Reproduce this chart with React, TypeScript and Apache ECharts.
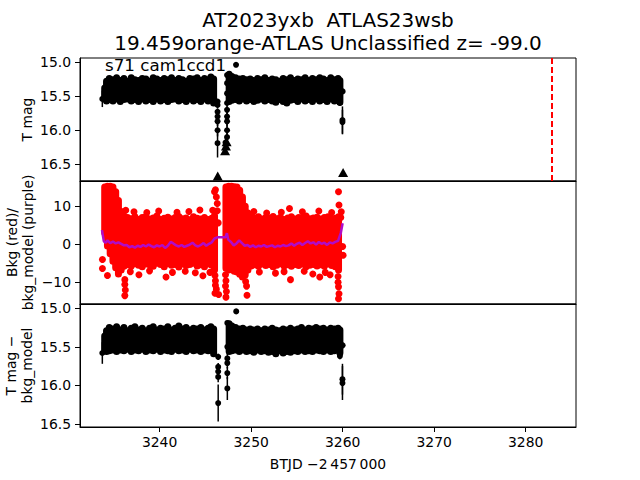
import React, { useEffect, useRef } from "react";
import * as echarts from "echarts";

const TITLE_LINE1 = "AT2023yxb  ATLAS23wsb";
const TITLE_LINE2 = "19.459orange-ATLAS Unclassified z= -99.0";
const SECTOR_LABEL = "s71 cam1ccd1";
const X_LABEL = "BTJD \u22122\u2009457\u2009000";
const Y1_LABEL = "T mag";
const Y2_LABEL = "Bkg (red)/\nbkg_model (purple)";
const Y3_LABEL = "T mag \u2212\nbkg_model";

const X_TICKS = [3240, 3250, 3260, 3270, 3280];
const MAG_TICKS = [15.0, 15.5, 16.0, 16.5];
const BKG_TICKS = [-10, 0, 10];
const X_RANGE = [3231.3, 3285.5];
const MAG_RANGE = [14.94, 16.745];
const BKG_RANGE = [-15.7, 16.6];
const DET_RANGE = [14.944, 16.54];
const MARKER_T = 3282.9;

// Panel 1: dense light-curve envelope [t, brightest mag, faintest mag]
const magBand = [
  [3234.0, 15.38, 15.54], [3234.2, 15.28, 15.57], [3234.5, 15.24, 15.55], [3234.9, 15.26, 15.57],
  [3235.3, 15.23, 15.54], [3235.7, 15.27, 15.58], [3236.1, 15.24, 15.55], [3236.5, 15.28, 15.54],
  [3236.9, 15.23, 15.57], [3237.3, 15.26, 15.55], [3237.7, 15.27, 15.58], [3238.1, 15.24, 15.54],
  [3238.5, 15.25, 15.57], [3238.9, 15.28, 15.55], [3239.3, 15.23, 15.58], [3239.7, 15.25, 15.54],
  [3240.1, 15.27, 15.57], [3240.5, 15.24, 15.55], [3240.9, 15.26, 15.58], [3241.3, 15.23, 15.55],
  [3241.7, 15.27, 15.54], [3242.1, 15.24, 15.57], [3242.5, 15.26, 15.55], [3242.9, 15.28, 15.58],
  [3243.3, 15.24, 15.54], [3243.7, 15.25, 15.57], [3244.1, 15.23, 15.55], [3244.5, 15.27, 15.58],
  [3244.9, 15.24, 15.54], [3245.3, 15.26, 15.57], [3245.6, 15.22, 15.55], [3245.9, 15.25, 15.60],
  [3247.6, 15.18, 15.58], [3247.9, 15.21, 15.56], [3248.3, 15.23, 15.55], [3248.7, 15.25, 15.57],
  [3249.1, 15.24, 15.54], [3249.5, 15.26, 15.57], [3249.9, 15.25, 15.55], [3250.3, 15.27, 15.58],
  [3250.7, 15.24, 15.56], [3251.1, 15.26, 15.54], [3251.5, 15.23, 15.57], [3251.9, 15.27, 15.55],
  [3252.3, 15.25, 15.57], [3252.7, 15.26, 15.59], [3253.1, 15.28, 15.55], [3253.5, 15.24, 15.58],
  [3253.9, 15.26, 15.60], [3254.3, 15.23, 15.56], [3254.7, 15.27, 15.55], [3255.1, 15.25, 15.58],
  [3255.5, 15.26, 15.54], [3255.9, 15.23, 15.57], [3256.3, 15.27, 15.55], [3256.7, 15.24, 15.58],
  [3257.1, 15.26, 15.54], [3257.5, 15.23, 15.57], [3257.9, 15.25, 15.55], [3258.3, 15.27, 15.58],
  [3258.7, 15.23, 15.54], [3259.1, 15.26, 15.57], [3259.5, 15.24, 15.55], [3259.7, 15.27, 15.59],
];
// Panel 1: isolated points [t, mag, error]
const magPoints = [
  [3233.74, 15.54, 0.12],
  [3246.33, 15.58, 0.04], [3246.33, 15.63, 0.05], [3246.33, 15.73, 0.05], [3246.33, 15.80, 0.06],
  [3246.33, 15.87, 0.07], [3246.33, 16.00, 0.09], [3246.33, 16.19, 0.21],
  [3247.37, 15.19, 0.0], [3247.37, 15.31, 0.04], [3247.37, 15.46, 0.04], [3247.37, 15.60, 0.05],
  [3247.37, 15.70, 0.06], [3247.37, 15.80, 0.07], [3247.37, 15.87, 0.08], [3247.37, 16.00, 0.10],
  [3247.37, 16.10, 0.14], [3247.2, 16.18, 0.08],
  [3248.35, 15.04, 0.0],
  [3259.7, 15.60, 0.04], [3260.0, 15.43, 0.04],
  [3259.98, 15.85, 0.2], [3259.98, 15.88, 0.18],
];
// Panel 1: upper limits [t, mag]
const magLimits = [
  [3246.35, 16.67], [3247.15, 16.30], [3247.25, 16.23], [3247.32, 16.17], [3260.05, 16.62],
];

// Panel 2: background envelope [t, high, low]
const bkgBand = [
  [3234.0, 15.0, 3.0], [3234.3, 15.2, -0.5], [3234.6, 15.2, -2.5], [3234.9, 15.0, -4.5],
  [3235.2, 13.8, -6.2], [3235.5, 11.5, -7.8], [3235.8, 8.6, -6.8], [3236.1, 7.4, -5.8],
  [3236.5, 7.0, -5.4], [3236.9, 6.7, -5.7], [3237.3, 7.2, -5.1], [3237.7, 6.5, -5.5],
  [3238.1, 7.0, -5.9], [3238.5, 7.3, -5.2], [3238.9, 6.6, -5.4], [3239.3, 6.9, -5.8],
  [3239.7, 7.4, -5.0], [3240.1, 6.5, -5.3], [3240.5, 6.8, -5.9], [3240.9, 7.1, -5.1],
  [3241.3, 6.6, -5.5], [3241.7, 7.0, -5.3], [3242.1, 7.3, -6.0], [3242.5, 6.7, -5.2],
  [3242.9, 6.9, -5.6], [3243.3, 6.4, -5.3], [3243.7, 7.2, -5.0], [3244.1, 6.8, -5.7],
  [3244.5, 6.6, -5.4], [3244.9, 7.0, -5.9], [3245.3, 6.5, -5.2], [3245.7, 6.8, -5.5],
  [3246.0, 7.5, -6.8],
  [3247.25, 15.0, -6.3], [3247.55, 15.2, -6.8], [3247.85, 15.2, -6.5], [3248.15, 15.1, -7.1],
  [3248.45, 15.0, -7.3], [3248.75, 14.2, -7.9], [3249.05, 12.4, -8.6], [3249.35, 10.0, -8.1],
  [3249.65, 8.2, -6.8], [3250.0, 7.3, -5.7], [3250.4, 6.9, -5.4], [3250.8, 7.2, -5.8],
  [3251.2, 6.6, -5.2], [3251.6, 7.0, -5.6], [3252.0, 6.8, -5.3], [3252.4, 7.3, -5.9],
  [3252.8, 6.7, -5.5], [3253.2, 7.1, -5.1], [3253.6, 6.5, -5.7], [3254.0, 6.9, -5.4],
  [3254.4, 7.2, -5.8], [3254.8, 6.6, -5.3], [3255.2, 7.0, -5.6], [3255.6, 6.8, -5.2],
  [3256.0, 7.4, -5.9], [3256.4, 6.7, -5.5], [3256.8, 6.9, -5.3], [3257.2, 7.1, -5.7],
  [3257.6, 6.6, -5.4], [3258.0, 7.0, -5.8], [3258.4, 7.2, -5.2], [3258.8, 6.7, -5.6],
  [3259.2, 6.8, -5.9], [3259.55, 7.2, -6.8],
];
// Panel 2: scattered background points [t, value]
const bkgPoints = [
  [3233.75, -4.0], [3233.75, -6.4], [3234.3, -8.2],
  [3236.2, -9.3], [3236.2, -10.6], [3236.25, -12.0], [3236.2, -13.5], [3236.3, 8.9],
  [3236.8, -7.2], [3237.2, 8.5], [3237.74, -8.0], [3238.6, 8.3], [3238.9, -7.0],
  [3239.9, 8.7], [3240.7, -8.6], [3241.4, -7.4], [3241.9, 8.4], [3242.8, -7.1],
  [3243.2, 8.6], [3243.9, -7.5], [3244.4, 9.0], [3244.73, -8.3], [3245.5, -7.4], [3245.8, 8.9],
  [3246.0, 13.8], [3246.1, 14.3], [3246.2, 12.4], [3246.3, 10.7], [3246.3, 8.8], [3246.4, 5.6],
  [3246.05, -8.2], [3246.1, -9.6], [3246.1, -10.8], [3246.2, -11.8], [3246.05, -12.9], [3246.45, -13.2],
  [3247.2, -8.0], [3247.25, -9.6], [3247.2, -11.0], [3247.3, -12.4], [3247.25, -13.9],
  [3249.4, -9.8], [3249.5, -11.0], [3249.55, -13.4],
  [3250.3, 8.6], [3250.9, -7.3], [3251.7, 8.2], [3252.66, -7.6], [3253.6, -7.2], [3253.3, 8.4],
  [3254.19, 9.4], [3254.3, -9.3], [3255.8, -7.1], [3255.6, 8.5],
  [3256.74, -7.8], [3257.4, 8.7], [3257.5, -8.6], [3258.1, -7.4], [3258.63, -8.0], [3258.8, 8.3],
  [3259.55, 13.8], [3259.6, 10.3], [3259.85, 8.5], [3259.8, 7.0],
  [3259.5, -8.5], [3259.5, -10.0], [3259.55, -11.2], [3259.6, -13.0], [3259.55, -14.3],
  [3260.0, -0.6], [3260.05, -2.9],
];
// Panel 2: background model [t, value]
const bkgModel = [
  [3233.7, 3.7], [3233.9, 0.8], [3234.1, 0.4], [3234.3, 1.0], [3234.6, 0.3], [3234.9, 0.7],
  [3235.2, 0.2], [3235.5, 0.5], [3235.8, 0.1], [3236.1, -0.3], [3236.4, -0.2], [3236.7, -0.8],
  [3237.0, -0.5], [3237.3, -0.9], [3237.6, -0.4], [3237.9, -0.7], [3238.2, -0.2], [3238.5, -0.6],
  [3238.8, -0.1], [3239.1, -0.5], [3239.4, -0.8], [3239.7, -0.3], [3240.0, -0.6], [3240.3, -0.2],
  [3240.6, -1.0], [3240.9, -0.4], [3241.2, 0.6], [3241.5, 0.2], [3241.8, -0.3], [3242.1, -0.6],
  [3242.4, -0.2], [3242.7, -0.7], [3243.0, -0.4], [3243.3, -0.1], [3243.6, 0.4], [3243.9, -0.3],
  [3244.2, -0.6], [3244.5, -0.2], [3244.8, 0.3], [3245.1, -0.4], [3245.4, 0.1], [3245.7, 0.5],
  [3246.0, 1.5], [3246.3, 1.8], [3247.2, 1.8], [3247.35, 2.9], [3247.5, 1.2], [3247.8, 0.6],
  [3248.1, -0.3], [3248.4, 0.2], [3248.7, 1.0], [3249.0, 0.3], [3249.3, -0.4], [3249.6, -0.2],
  [3249.9, -0.7], [3250.2, -0.3], [3250.5, -0.8], [3250.8, -0.4], [3251.1, -0.6], [3251.4, -0.2],
  [3251.7, -0.7], [3252.0, -0.5], [3252.3, -0.3], [3252.6, -0.8], [3252.9, -0.4], [3253.2, -0.6],
  [3253.5, -0.2], [3253.8, -0.5], [3254.1, -0.3], [3254.4, 0.2], [3254.7, -0.4], [3255.0, 0.1],
  [3255.3, 0.4], [3255.6, -0.2], [3255.9, 0.3], [3256.2, 0.8], [3256.5, 0.2], [3256.8, 0.5],
  [3257.1, -0.1], [3257.4, 0.6], [3257.7, 0.1], [3258.0, 0.4], [3258.3, -0.2], [3258.6, 0.5],
  [3258.9, 0.2], [3259.2, 0.6], [3259.5, 0.9], [3259.8, 3.0], [3260.0, 5.5],
];

// Panel 3: detrended envelope [t, brightest mag, faintest mag]
const detBand = [
  [3234.0, 15.36, 15.54], [3234.2, 15.29, 15.56], [3234.5, 15.25, 15.55], [3234.9, 15.27, 15.54],
  [3235.3, 15.24, 15.56], [3235.7, 15.28, 15.54], [3236.1, 15.25, 15.55], [3236.5, 15.29, 15.53],
  [3236.9, 15.26, 15.56], [3237.3, 15.24, 15.54], [3237.7, 15.28, 15.55], [3238.1, 15.26, 15.53],
  [3238.5, 15.29, 15.56], [3238.9, 15.26, 15.54], [3239.3, 15.24, 15.55], [3239.7, 15.28, 15.53],
  [3240.1, 15.26, 15.56], [3240.5, 15.27, 15.54], [3240.9, 15.24, 15.55], [3241.3, 15.28, 15.56],
  [3241.7, 15.26, 15.53], [3242.1, 15.23, 15.55], [3242.5, 15.27, 15.54], [3242.9, 15.25, 15.56],
  [3243.3, 15.28, 15.53], [3243.7, 15.26, 15.55], [3244.1, 15.27, 15.54], [3244.5, 15.25, 15.56],
  [3244.9, 15.28, 15.54], [3245.3, 15.26, 15.55], [3245.6, 15.24, 15.54], [3245.9, 15.27, 15.59],
  [3247.6, 15.20, 15.56], [3247.9, 15.23, 15.55], [3248.3, 15.25, 15.54], [3248.7, 15.27, 15.56],
  [3249.1, 15.26, 15.54], [3249.5, 15.28, 15.56], [3249.9, 15.27, 15.55], [3250.3, 15.28, 15.57],
  [3250.7, 15.27, 15.54], [3251.1, 15.29, 15.56], [3251.5, 15.27, 15.55], [3251.9, 15.28, 15.57],
  [3252.3, 15.26, 15.56], [3252.7, 15.28, 15.59], [3253.1, 15.29, 15.55], [3253.5, 15.27, 15.58],
  [3253.9, 15.28, 15.56], [3254.3, 15.26, 15.57], [3254.7, 15.28, 15.55], [3255.1, 15.27, 15.56],
  [3255.5, 15.25, 15.54], [3255.9, 15.28, 15.56], [3256.3, 15.26, 15.55], [3256.7, 15.27, 15.56],
  [3257.1, 15.25, 15.54], [3257.5, 15.27, 15.55], [3257.9, 15.26, 15.56], [3258.3, 15.28, 15.54],
  [3258.7, 15.26, 15.56], [3259.1, 15.27, 15.55], [3259.5, 15.26, 15.54], [3259.7, 15.28, 15.58],
];
// Panel 3: isolated points [t, mag, error]
const detPoints = [
  [3233.74, 15.58, 0.14],
  [3246.4, 15.63, 0.04], [3246.4, 15.76, 0.05], [3246.4, 15.82, 0.06], [3246.4, 15.89, 0.07],
  [3246.4, 16.23, 0.24],
  [3247.4, 15.19, 0.0], [3247.4, 15.50, 0.05], [3247.4, 15.65, 0.06], [3247.4, 15.71, 0.07],
  [3247.4, 15.84, 0.08], [3247.4, 16.04, 0.15],
  [3248.37, 15.04, 0.0],
  [3259.7, 15.62, 0.04], [3260.0, 15.48, 0.04],
  [3259.98, 15.92, 0.2], [3259.98, 15.97, 0.22],
];

const FONT = "DejaVu Sans";

function bandRenderer(color: string, w: number) {
  return (params: any, api: any) => {
    const t = api.value(0);
    const a = api.coord([t, api.value(1)]);
    const b = api.coord([t, api.value(2)]);
    const y0 = Math.min(a[1], b[1]) - w / 2;
    const h = Math.abs(a[1] - b[1]) + w;
    return {
      type: "rect",
      shape: { x: a[0] - w / 2, y: y0, width: w, height: h, r: w / 2 },
      style: { fill: color },
    };
  };
}

function errRenderer(params: any, api: any) {
  const t = api.value(0);
  const m = api.value(1);
  const e = api.value(2);
  const c = api.coord([t, m]);
  const children: any[] = [];
  if (e > 0) {
    const top = api.coord([t, m - e]);
    const bot = api.coord([t, m + e]);
    children.push({
      type: "line",
      shape: { x1: c[0], y1: top[1], x2: c[0], y2: bot[1] },
      style: { stroke: "#000", lineWidth: 1.5 },
    });
  }
  children.push({ type: "circle", shape: { cx: c[0], cy: c[1], r: 3 }, style: { fill: "#000" } });
  return { type: "group", children };
}

const fmtTick = (v: number, d: number) =>
  v < 0 ? "\u2212" + Math.abs(v).toFixed(d) : v.toFixed(d);

function yAxisCfg(grid: number, range: number[], ticks: number[], inverse: boolean, digits: number, name: string, gap: number) {
  return {
    gridIndex: grid,
    type: "value",
    inverse,
    min: range[0],
    max: range[1],
    axisLine: { show: true, onZero: false, lineStyle: { color: "#000", width: 1 } },
    axisTick: { show: true, customValues: ticks, length: 5, lineStyle: { color: "#000" } },
    axisLabel: {
      customValues: ticks,
      formatter: (v: number) => fmtTick(v, digits),
      color: "#000",
      fontSize: 13.9,
      fontFamily: FONT,
      margin: 9,
    },
    splitLine: { show: false },
    name,
    nameLocation: "middle",
    nameGap: gap,
    nameMoveOverlap: false,
    nameTextStyle: { color: "#000", fontSize: 13.9, fontFamily: FONT, lineHeight: 16 },
  };
}

function xAxisCfg(grid: number, showLabels: boolean) {
  return {
    gridIndex: grid,
    type: "value",
    min: X_RANGE[0],
    max: X_RANGE[1],
    axisLine: { show: true, onZero: false, lineStyle: { color: "#000", width: 1 } },
    axisTick: { show: showLabels, customValues: X_TICKS, length: 5, lineStyle: { color: "#000" } },
    axisLabel: {
      show: showLabels,
      customValues: X_TICKS,
      formatter: (v: number) => String(v),
      color: "#000",
      fontSize: 13.9,
      fontFamily: FONT,
      margin: 8,
    },
    splitLine: { show: false },
    name: showLabels ? X_LABEL : "",
    nameLocation: "middle",
    nameGap: 30,
    nameMoveOverlap: false,
    nameTextStyle: { color: "#000", fontSize: 13.9, fontFamily: FONT },
  };
}

export default function App() {
  const ref = useRef<HTMLDivElement>(null);
  useEffect(() => {
    document.body.style.margin = "0";
    if (!ref.current) return;
    const chart = echarts.init(ref.current, null, { renderer: "svg" });
    const gridBase = {
      left: 80,
      width: 496,
      height: 123,
      show: true,
      borderColor: "#000",
      borderWidth: 1,
      backgroundColor: "#fff",
      containLabel: false,
      outerBoundsMode: "none",
    };
    chart.setOption({
      animation: false,
      backgroundColor: "#fff",
      title: {
        text: TITLE_LINE1 + "\n" + TITLE_LINE2,
        left: 328,
        top: 8,
        padding: 0,
        textAlign: "center",
        textStyle: { color: "#000", fontSize: 20, fontWeight: "normal", fontFamily: FONT, lineHeight: 23 },
      },
      grid: [
        { ...gridBase, top: 58 },
        { ...gridBase, top: 181 },
        { ...gridBase, top: 304 },
      ],
      xAxis: [xAxisCfg(0, false), xAxisCfg(1, false), xAxisCfg(2, true)],
      yAxis: [
        yAxisCfg(0, MAG_RANGE, MAG_TICKS, true, 1, Y1_LABEL, 45),
        yAxisCfg(1, BKG_RANGE, BKG_TICKS, false, 0, Y2_LABEL, 44),
        yAxisCfg(2, DET_RANGE, MAG_TICKS, true, 1, Y3_LABEL, 45),
      ],
      graphic: [
        {
          type: "text",
          x: 105,
          y: 65,
          style: { text: SECTOR_LABEL, fill: "#000", font: `16.7px "${FONT}"`, textVerticalAlign: "middle" },
          z: 100,
        },
      ],
      series: [
        { type: "custom", xAxisIndex: 0, yAxisIndex: 0, renderItem: bandRenderer("#000", 7), data: magBand, encode: { x: 0, y: [1, 2] }, clip: true },
        { type: "custom", xAxisIndex: 0, yAxisIndex: 0, renderItem: errRenderer, data: magPoints, encode: { x: 0, y: 1 }, clip: true },
        {
          type: "scatter",
          xAxisIndex: 0,
          yAxisIndex: 0,
          symbol: "triangle",
          symbolSize: [10, 9],
          itemStyle: { color: "#000", opacity: 1 },
          data: magLimits,
          markLine: {
            silent: true,
            symbol: "none",
            label: { show: false },
            lineStyle: { color: "#ff0000", type: [6, 3], width: 2, opacity: 1 },
            data: [{ xAxis: MARKER_T }],
          },
        },
        { type: "custom", xAxisIndex: 1, yAxisIndex: 1, renderItem: bandRenderer("#ff0000", 7), data: bkgBand, encode: { x: 0, y: [1, 2] }, clip: true },
        { type: "scatter", xAxisIndex: 1, yAxisIndex: 1, symbolSize: 7, itemStyle: { color: "#ff0000", opacity: 1 }, data: bkgPoints },
        {
          type: "line",
          xAxisIndex: 1,
          yAxisIndex: 1,
          showSymbol: false,
          lineStyle: { color: "#b00cc8", width: 2.5, opacity: 1 },
          data: bkgModel,
          z: 5,
        },
        { type: "custom", xAxisIndex: 2, yAxisIndex: 2, renderItem: bandRenderer("#000", 7), data: detBand, encode: { x: 0, y: [1, 2] }, clip: true },
        { type: "custom", xAxisIndex: 2, yAxisIndex: 2, renderItem: errRenderer, data: detPoints, encode: { x: 0, y: 1 }, clip: true },
      ],
    });
    return () => chart.dispose();
  }, []);
  return <div ref={ref} style={{ width: 640, height: 480 }} />;
}
